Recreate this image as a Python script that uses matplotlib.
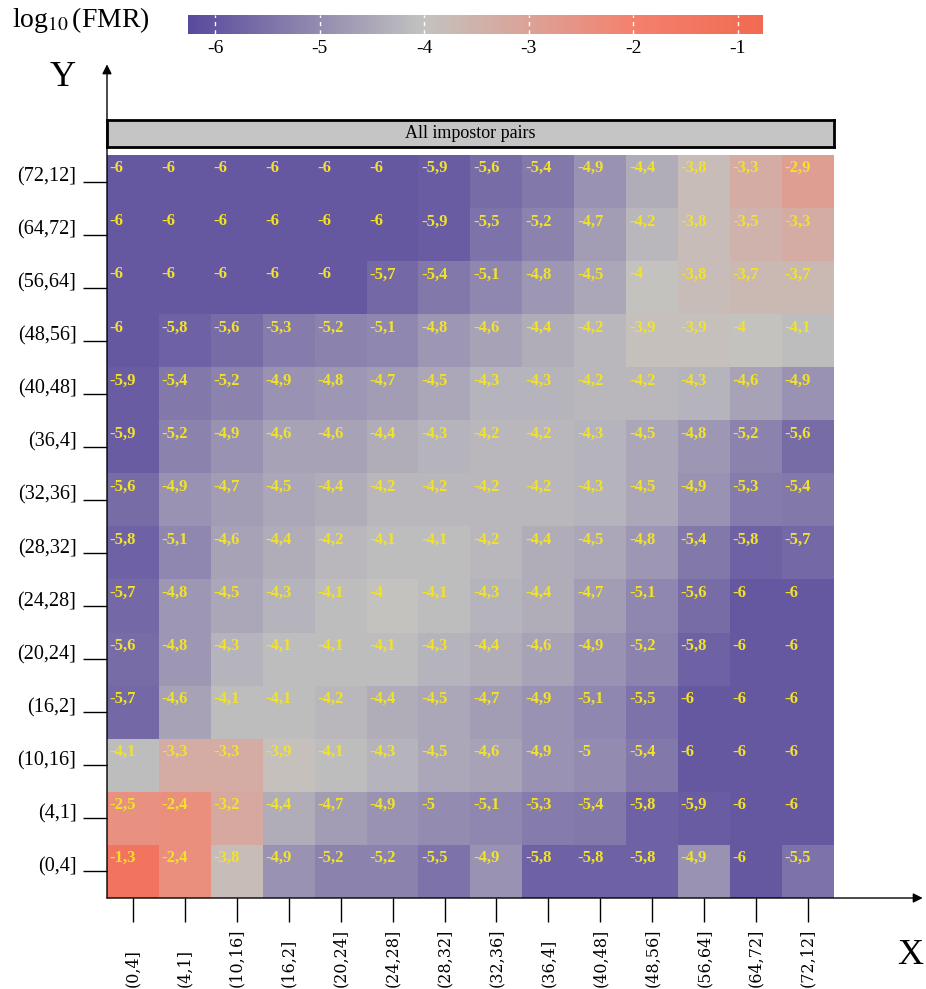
import numpy as np
import matplotlib
matplotlib.use("Agg")
import matplotlib.pyplot as plt
from matplotlib.colors import LinearSegmentedColormap
from matplotlib import transforms

# bins (rows listed top to bottom, columns left to right)
y_labels = ["(72,12]", "(64,72]", "(56,64]", "(48,56]", "(40,48]", "(36,4]", "(32,36]",
            "(28,32]", "(24,28]", "(20,24]", "(16,2]", "(10,16]", "(4,1]", "(0,4]"]
x_labels = ["(0,4]", "(4,1]", "(10,16]", "(16,2]", "(20,24]", "(24,28]", "(28,32]",
            "(32,36]", "(36,4]", "(40,48]", "(48,56]", "(56,64]", "(64,72]", "(72,12]"]

# log10(FMR) values
row_72_12 = [-6, -6, -6, -6, -6, -6, -5.9, -5.6, -5.4, -4.9, -4.4, -3.8, -3.3, -2.9]
row_64_72 = [-6, -6, -6, -6, -6, -6, -5.9, -5.5, -5.2, -4.7, -4.2, -3.8, -3.5, -3.3]
row_56_64 = [-6, -6, -6, -6, -6, -5.7, -5.4, -5.1, -4.8, -4.5, -4, -3.8, -3.7, -3.7]
row_48_56 = [-6, -5.8, -5.6, -5.3, -5.2, -5.1, -4.8, -4.6, -4.4, -4.2, -3.9, -3.9, -4, -4.1]
row_40_48 = [-5.9, -5.4, -5.2, -4.9, -4.8, -4.7, -4.5, -4.3, -4.3, -4.2, -4.2, -4.3, -4.6, -4.9]
row_36_4 = [-5.9, -5.2, -4.9, -4.6, -4.6, -4.4, -4.3, -4.2, -4.2, -4.3, -4.5, -4.8, -5.2, -5.6]
row_32_36 = [-5.6, -4.9, -4.7, -4.5, -4.4, -4.2, -4.2, -4.2, -4.2, -4.3, -4.5, -4.9, -5.3, -5.4]
row_28_32 = [-5.8, -5.1, -4.6, -4.4, -4.2, -4.1, -4.1, -4.2, -4.4, -4.5, -4.8, -5.4, -5.8, -5.7]
row_24_28 = [-5.7, -4.8, -4.5, -4.3, -4.1, -4, -4.1, -4.3, -4.4, -4.7, -5.1, -5.6, -6, -6]
row_20_24 = [-5.6, -4.8, -4.3, -4.1, -4.1, -4.1, -4.3, -4.4, -4.6, -4.9, -5.2, -5.8, -6, -6]
row_16_2 = [-5.7, -4.6, -4.1, -4.1, -4.2, -4.4, -4.5, -4.7, -4.9, -5.1, -5.5, -6, -6, -6]
row_10_16 = [-4.1, -3.3, -3.3, -3.9, -4.1, -4.3, -4.5, -4.6, -4.9, -5, -5.4, -6, -6, -6]
row_4_1 = [-2.5, -2.4, -3.2, -4.4, -4.7, -4.9, -5, -5.1, -5.3, -5.4, -5.8, -5.9, -6, -6]
row_0_4 = [-1.3, -2.4, -3.8, -4.9, -5.2, -5.2, -5.5, -4.9, -5.8, -5.8, -5.8, -4.9, -6, -5.5]

values = np.array([row_72_12, row_64_72, row_56_64, row_48_56, row_40_48, row_36_4, row_32_36,
                   row_28_32, row_24_28, row_20_24, row_16_2, row_10_16, row_4_1, row_0_4])

cbar_ticks = [-6, -5, -4, -3, -2, -1]

vmin, vmax = -6.26, -0.76

def pos(v):
    return (v - vmin) / (vmax - vmin)

cmap = LinearSegmentedColormap.from_list("fmr", [
    (0.0, "#5a4a9e"),
    (pos(-4), "#c3c3c0"),
    (pos(-2), "#f4826e"),
    (1.0, "#f26a52"),
])

serif = "Liberation Serif"

fig = plt.figure(figsize=(9.26, 9.89), dpi=100)
W, H = 926, 989

def fig_box(x0, y0, x1, y1):
    return [x0 / W, 1 - y1 / H, (x1 - x0) / W, (y1 - y0) / H]

# heatmap
ax = fig.add_axes(fig_box(107, 155, 834, 898))
n_rows, n_cols = values.shape
ax.imshow(values, cmap=cmap, vmin=vmin, vmax=vmax, aspect="auto",
          interpolation="nearest", extent=(-0.5, n_cols - 0.5, n_rows - 0.5, -0.5))
for i in range(n_rows):
    for j in range(n_cols):
        v = values[i, j]
        txt = ("%g" % v).replace(".", ",")
        ax.text(j - 0.45, i - 0.40, txt, ha="left", va="top", color="#f2e22a",
                fontsize=12, fontweight="bold", family=serif)

for s in ax.spines.values():
    s.set_visible(False)
ax.set_xlim(-0.5, n_cols - 0.5)
ax.set_ylim(n_rows - 0.5, -0.5)

ax.set_yticks(range(n_rows))
ax.set_yticklabels(y_labels, family=serif, fontsize=14.5, va="baseline")
ax.tick_params(axis="y", length=17, width=1, pad=5)
ax.set_xticks(range(n_cols))
ax.set_xticklabels([])
ax.tick_params(axis="x", length=17, width=1)

# x tick labels, rotated and sitting on the bottom edge
trans = transforms.blended_transform_factory(ax.transData, fig.transFigure)
for j, lab in enumerate(x_labels):
    ax.text(j, 0.002, lab, transform=trans, rotation=90, ha="center", va="bottom",
            family="DejaVu Serif", fontsize=11.5, clip_on=False)

# axis arrows
ax.annotate("", xy=(1.122, 0), xytext=(0, 0), xycoords="axes fraction",
            arrowprops=dict(arrowstyle="-|>", color="black", lw=1, mutation_scale=14,
                            shrinkA=0, shrinkB=0), annotation_clip=False)
ax.annotate("", xy=(0, 1.122), xytext=(0, 0), xycoords="axes fraction",
            arrowprops=dict(arrowstyle="-|>", color="black", lw=1, mutation_scale=14,
                            shrinkA=0, shrinkB=0), annotation_clip=False)
fig.text(63 / W, 1 - 78 / H, "Y", family=serif, fontsize=26, ha="center", va="center")
fig.text(910 / W, 1 - 955 / H, "X", family=serif, fontsize=26, ha="center", va="center")

# strip title
strip = fig.add_axes(fig_box(107, 120, 834, 147))
strip.set_facecolor("#c4c5c4")
strip.set_xticks([])
strip.set_yticks([])
for s in strip.spines.values():
    s.set_linewidth(2)
strip.text(0.5, 0.5, "All impostor pairs", ha="center", va="center",
           family=serif, fontsize=13, transform=strip.transAxes)

# colour bar
cax = fig.add_axes(fig_box(188, 15, 763, 34))
grad = np.linspace(vmin, vmax, 400).reshape(1, -1)
cax.imshow(grad, cmap=cmap, vmin=vmin, vmax=vmax, aspect="auto",
           extent=(vmin, vmax, 0, 1))
cax.vlines(cbar_ticks, 0, 1, colors="white", linestyles=(0, (3, 3)), lw=1)
cax.set_xlim(vmin, vmax)
cax.set_ylim(0, 1)
cax.set_yticks([])
cax.set_xticks(cbar_ticks)
cax.set_xticklabels([str(t) for t in cbar_ticks], family=serif, fontsize=14)
cax.tick_params(axis="x", length=0, pad=4)
for s in cax.spines.values():
    s.set_visible(False)

fig.text(12 / W, 1 - 20 / H, r"log$_{10}\,$(FMR)", family=serif, fontsize=20,
         ha="left", va="center", math_fontfamily="stix")

fig.savefig("out.png", dpi=100)
